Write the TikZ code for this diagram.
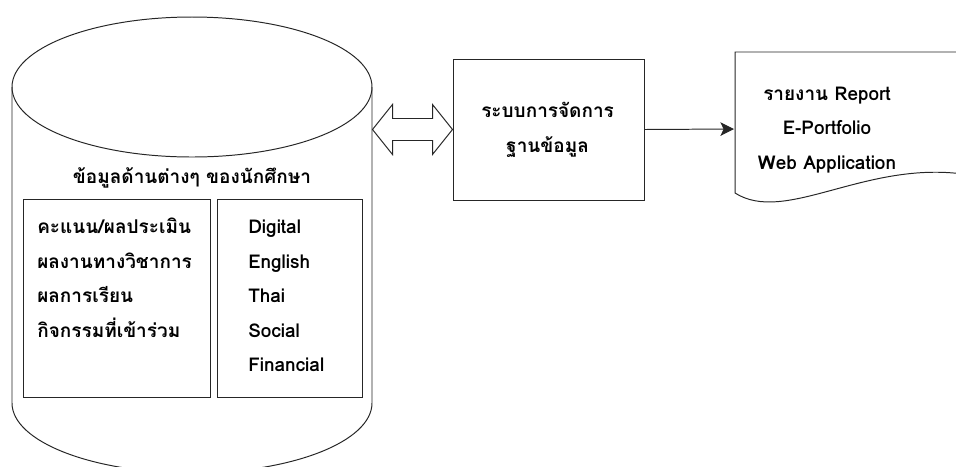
\documentclass[tikz,border=0pt]{standalone}
\usepackage{fontspec}
\setmainfont[Script=Thai]{Loma}
\usetikzlibrary{arrows.meta}
\begin{document}
\begin{tikzpicture}[e/.style={line width=0.7pt,black!85}, box/.style={e,draw,rectangle,inner sep=0pt}, t/.style={font=\bfseries\fontsize{13.5}{17}\selectfont,inner sep=0pt}]
\useasboundingbox (0,0) rectangle (23.9,-11.65);
\clip (0,0) rectangle (23.9,-11.65);
\coordinate (top) at (4.8,-2.175);
\coordinate (bot) at (4.8,-10.075);
\draw[e] (top) ellipse (4.5 and 1.75);
\draw[e] ([xshift=-4.5cm]top) -- ([xshift=-4.5cm]bot) arc (180:360:4.5 and 1.75) -- ([xshift=4.5cm]top);
\node[t,anchor=base] (title) at (4.8,-4.575) {ข้อมูลด้านต่างๆ ของนักศึกษา};
\node[box,minimum width=4.675cm,minimum height=4.95cm] (scores) at (2.9125,-7.45) {};
\node[box,minimum width=3.625cm,minimum height=4.95cm] (skills) at (7.2375,-7.45) {};
\node[t,anchor=base west] (s1) at (0.925,-5.8375) {คะแนน/ผลประเมิน};
\node[t,anchor=base west] (s2) at (0.925,-6.7) {ผลงานทางวิชาการ};
\node[t,anchor=base west] (s3) at (0.925,-7.5625) {ผลการเรียน};
\node[t,anchor=base west] (s4) at (0.925,-8.425) {กิจกรรมที่เข้าร่วม};
\node[t,anchor=base west] (k1) at (6.2,-5.8375) {Digital};
\node[t,anchor=base west] (k2) at (6.2,-6.7) {English};
\node[t,anchor=base west] (k3) at (6.2,-7.5625) {Thai};
\node[t,anchor=base west] (k4) at (6.2,-8.425) {Social};
\node[t,anchor=base west] (k5) at (6.2,-9.2875) {Financial};
\node[box,minimum width=4.775cm,minimum height=3.525cm] (dbms) at (13.7125,-3.2375) {};
\node[t,anchor=base] (d1) at (13.69,-2.925) {ระบบการจัดการ};
\node[t,anchor=base] (d2) at (13.69,-3.8) {ฐานข้อมูล};
\coordinate (link) at (dbms.west);
\draw[e,fill=white] (link) -- ++(-0.5,0.625) -- ++(0,-0.35) -- ++(-1,0) -- ++(0,0.35) -- ++(-0.5,-0.625) -- ++(0.5,-0.625) -- ++(0,0.35) -- ++(1,0) -- ++(0,-0.35) -- cycle;
\coordinate (doc) at (18.375,-1.3);
\draw[e] (24.5,-1.3) -- (doc) -- (18.375,-4.825) .. controls (19.6,-5.6) and (21.5,-4.1) .. (23.9,-4.33) -- (24.5,-4.3);
\draw[e,-{Stealth[length=3.4mm,width=3.4mm,inset=0.8mm]}] (dbms.east) -- (18.35,-3.225);
\node[t,anchor=base] (r1) at (20.675,-2.5) {รายงาน Report};
\node[t,anchor=base] (r2) at (20.675,-3.36) {E-Portfolio};
\node[t,anchor=base] (r3) at (20.675,-4.23) {Web Application};
\end{tikzpicture}
\end{document}
